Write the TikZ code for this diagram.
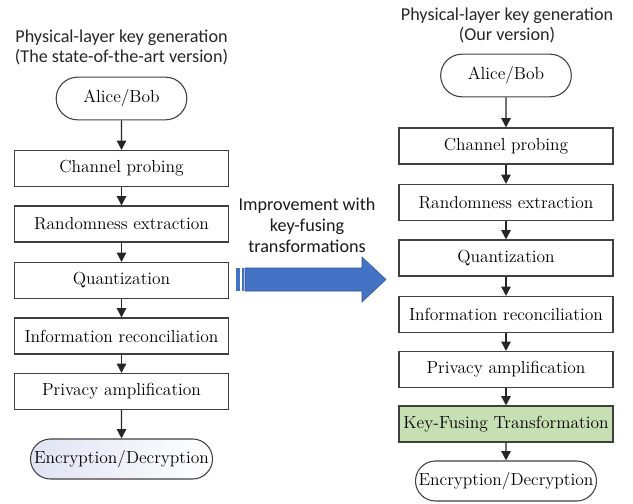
\documentclass[tikz,border=0pt]{standalone}
\usepackage{fontspec}
\newfontfamily\calibri{Carlito}
\usetikzlibrary{arrows.meta,shapes.misc}
\definecolor{boxline}{RGB}{64,64,64}
\definecolor{fusegreen}{RGB}{198,224,180}
\definecolor{arrowblue}{RGB}{68,114,196}
\definecolor{arrowedge}{RGB}{47,82,143}
\definecolor{pillshade}{RGB}{224,228,243}

\tikzset{
  stepbox/.style={draw=boxline, line width=0.8pt, fill=white, minimum width=160.5pt,
    minimum height=27pt, inner sep=0pt, font=\rmfamily\fontsize{13.1}{16}\selectfont},
  terminal/.style={rounded rectangle, draw=boxline, line width=0.8pt, fill=white,
    minimum height=30pt, inner sep=0pt, font=\rmfamily\fontsize{13.1}{16}\selectfont},
  flow/.style={-{Triangle[length=7pt,width=7pt]}, line width=1.1pt, black!85},
  caption/.style={font=\calibri\fontsize{13.6}{15.6}\selectfont, align=center, text=black!85},
}

\begin{document}
\begin{tikzpicture}[x=0.75pt, y=-0.75pt]
  \useasboundingbox (0,0) rectangle (633,504);

  % state-of-the-art column
  \node[caption] (ltitle) at (121.5,47.5) {Physical-layer key generation\\(The state-of-the-art version)};
  \node[terminal, minimum width=98pt, minimum height=32pt] (lab) at (121.5,98.5) {Alice/Bob};
  \node[stepbox] (lcp) at (121.5,168.5) {Channel probing};
  \node[stepbox] (lre) at (121.5,224) {Randomness extraction};
  \node[stepbox] (lqu) at (121.5,280.5) {Quantization};
  \node[stepbox] (lir) at (121.5,336) {Information reconciliation};
  \node[stepbox] (lpa) at (121.5,391.5) {Privacy amplification};
  \node[terminal, minimum width=136.5pt, left color=pillshade, right color=white] (lenc) at (121.5,459) {Encryption/Decryption};

  \draw[flow] (lab) -- (lcp);
  \draw[flow] (lcp) -- (lre);
  \draw[flow] (lre) -- (lqu);
  \draw[flow] (lqu) -- (lir);
  \draw[flow] (lir) -- (lpa);
  \draw[flow] (lpa) -- (lenc);

  % our column
  \node[caption] (rtitle) at (507,25.5) {Physical-layer key generation\\(Our version)};
  \node[terminal, minimum width=98pt, minimum height=32pt] (rab) at (506,75.5) {Alice/Bob};
  \node[stepbox] (rcp) at (506,146) {Channel probing};
  \node[stepbox] (rre) at (506,202.5) {Randomness extraction};
  \node[stepbox] (rqu) at (506,258) {Quantization};
  \node[stepbox] (rir) at (506,314.5) {Information reconciliation};
  \node[stepbox] (rpa) at (506,369.5) {Privacy amplification};
  \node[stepbox, fill=fusegreen] (rkf) at (506,424) {Key-Fusing Transformation};
  \node[terminal, minimum width=135.75pt] (renc) at (506,481) {Encryption/Decryption};

  \draw[flow] (rab) -- (rcp);
  \draw[flow] (rcp) -- (rre);
  \draw[flow] (rre) -- (rqu);
  \draw[flow] (rqu) -- (rir);
  \draw[flow] (rir) -- (rpa);
  \draw[flow] (rpa) -- (rkf);
  \draw[flow] (rkf) -- (renc);

  % improvement arrow
  \node[caption, text=black!90] (improve) at (307,225.5) {Improvement with\\key-fusing\\transformations};
  \fill[arrowblue] (236,268) rectangle (240,291);
  \fill[arrowblue] (241.5,268) rectangle (243.5,291);
  \filldraw[fill=arrowblue, draw=arrowedge, line width=0.4pt]
    (245,268) -- (362,268) -- (362,257) -- (386,279.5) -- (362,302) -- (362,291) -- (245,291) -- cycle;
\end{tikzpicture}
\end{document}
